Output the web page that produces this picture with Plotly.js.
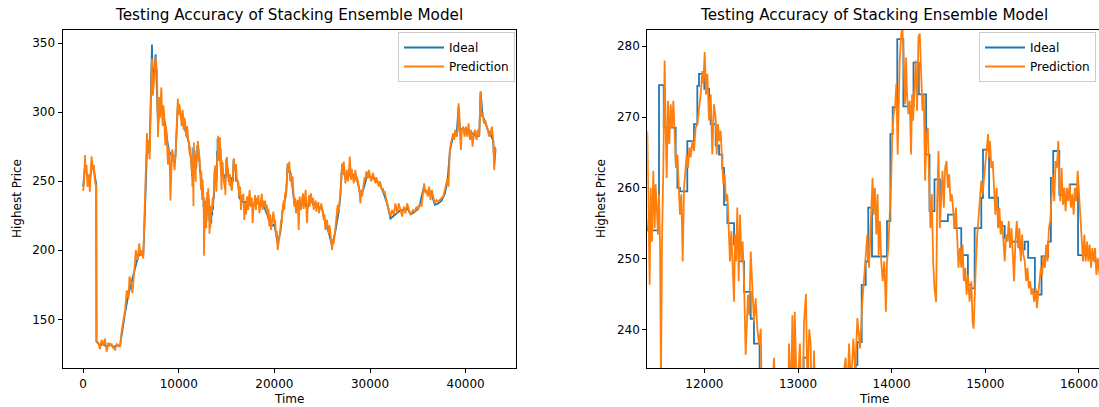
<!DOCTYPE html>
<html><head><meta charset="utf-8">
<script src="https://cdn.plot.ly/plotly-3.0.1.min.js"></script>
<style>html,body{margin:0;padding:0;overflow:hidden;background:#fff}#chart{width:1101px;height:407px}</style>
</head><body><div id="chart"></div>
<script>
// ---------- data ----------
const predTime = [
0,100,200,246,351,456,597,702,807,878,
1018,1123,1229,1334,1369,1404,1580,1755,1931,2106,
2282,2457,2633,2808,2984,3159,3335,3510,3686,3861,
4037,4212,4388,4563,4739,4844,5019,5160,5370,5511,
5721,5862,6002,6143,6283,6423,6564,6669,6774,6880,
6950,7090,7196,7301,7441,7582,7722,7827,7968,8040,
8108,8180,8249,8320,8389,8460,8529,8600,8670,8740,
8810,8880,8951,9040,9126,9210,9302,9390,9477,9560,
9653,9740,9828,9905,9960,10048,10130,10222,10310,10396,
10450,10501,10570,10641,10710,10780,10850,10920,10990,11060,
11130,11199,11270,11339,
11391,11406,11416,11427,11441,11455,11470,11480,11491,11505,
11516,11527,11537,11548,11562,11576,11587,11598,11612,11626,
11641,11655,11669,11683,11697,11712,11726,11740,11754,11769,
11783,11797,11811,11826,11840,11854,11872,11890,11907,11925,
11943,11961,11979,11989,12004,12018,12032,12050,12068,12085,
12103,12121,12132,12146,12160,12174,12189,12203,12217,12231,
12246,12260,12274,12288,12303,12317,12327,12338,12352,12367,
12381,12395,12409,12424,12441,12452,12466,12480,12495,12513,
12530,12548,12566,12584,12602,12620,12640,12660,12690,12720,
12744,12770,12800,12840,12880,12904,12925,12940,12955,12965,
12990,13020,13045,13064,13085,13100,13120,13135,13150,13171,
13190,13210,13240,13270,13300,13330,13360,13390,13420,13450,
13480,13509,13525,13545,13565,13591,13610,13634,13662,13687,
13705,13723,13740,13758,13776,13796,13807,13821,13836,13850,
13861,13875,13889,13904,13921,13939,13950,13964,13979,13993,
14007,14021,14036,14050,14064,14075,14086,14100,14114,14129,
14143,14154,14164,14179,14193,14207,14218,14229,14243,14257,
14271,14286,14300,14314,14329,14343,14357,14371,14386,14400,
14414,14429,14443,14457,14475,14486,14500,14514,14529,14543,
14557,14571,14586,14600,14614,14629,14643,14657,14671,14686,
14700,14714,14729,14743,14757,14771,14786,14800,14814,14832,
14850,14864,14875,14886,14900,14914,14929,14943,14957,14971,
14986,15000,15014,15029,15039,15050,15064,15079,15093,15107,
15121,15136,15150,15164,15179,15193,15207,15221,15236,15250,
15264,15279,15293,15307,15321,15336,15350,15364,15379,15393,
15407,15421,15436,15450,15464,15479,15493,15507,15521,15539,
15550,15564,15579,15593,15607,15621,15636,15650,15664,15679,
15693,15707,15721,15736,15750,15764,15779,15789,15800,15814,
15829,15843,15857,15871,15886,15900,15914,15929,15943,15957,
15971,15986,16000,16014,16029,16043,16057,16071,16086,16100,
16114,16129,16143,16157,16171,16186,16200,16218,
16330,16420,16504,16590,16679,16760,16853,16958,17050,17132,
17200,17272,17340,17411,17480,17551,17640,17726,17810,17900,
17990,18075,18160,18249,18340,18424,18510,18598,18690,18773,
18860,18947,19030,19122,19210,19296,19380,19471,19560,19645,
19730,19820,19900,19994,20080,20169,20260,20343,20448,20530,
20622,20700,20762,20830,20901,20970,21041,21130,21216,21300,
21390,21480,21565,21650,21739,21830,21914,22000,22088,22170,
22263,22350,22437,22490,22542,22600,22646,22720,22786,22890,
22995,23060,23135,23200,23274,23340,23414,23480,23554,23620,
23693,23760,23833,23900,23972,24040,24112,24180,24252,24320,
24391,24460,24531,24600,24670,24740,24810,24900,24985,25070,
25159,25250,25334,25420,25508,25600,25683,25770,25858,25940,
26032,26120,26206,26290,26381,26470,26555,26640,26730,26820,
26904,26990,27079,27160,27253,27340,27428,27510,27602,27690,
27777,27881,27950,28021,28090,28160,28230,28300,28390,28475,
28560,28649,28740,28824,28910,28998,29090,29173,29260,29347,
29430,29522,29610,29696,29780,29871,29960,30045,30130,30220,
30300,30394,30480,30569,30650,30743,30830,30918,31000,31092,
31180,31267,31350,31441,31530,31616,31700,31790,
31965,32139,32314,32488,
32663,32837,33012,33186,33361,33535,33710,33884,34059,34233,
34408,34513,34688,34862,35037,35211,35386,35560,35665,35804,
35909,36049,36188,36328,36467,36607,36782,36956,37131,37305,
37480,37654,37829,38003,38108,38212,38352,38457,38561,38701,
38806,38910,39050,39190,39259,39329,39399,39504,39608,39748,
39887,40027,40167,40306,40446,40586,40725,40865,41004,41144,
41284,41423,41563,41668,41772,41912,42051,42191,42331,42470,
42610,42749,42889,42994,43064,43133
];
const predPrice = [
243,250,269,256,262,246,255,242.5,258,268,
258,262,250,248,246,134,133,128.5,135,131,
136,126.5,133,131,132,129,128,132,131,130,
142,149.5,157,171,165,181,176,169,186,200,
193,205,196,200,194,222,251,285,270,280,
266,321,339,312,330,340,330,282,311,296,
309,318,299,290,305,300,285,276,290,284,
270,262,275,270,236,262,273,270,262,258,
267,280,290,310,298,306,302,296.8,290,301.7,
298,287.2,296,294.4,285,282.4,290,287.2,279,277.5,
270,275.1,268,258.2,
268,258.1,246.3,260,252.4,262.4,254.3,260.5,256.2,253.4,
259.1,252,232,252.4,262.8,278,268.5,261.4,272.3,266.2,
271.8,268.5,272.3,267.1,262.8,264.7,260,256.2,259.1,249.6,
260,262.8,264.7,262.8,265.7,264.3,266.6,265.2,268.5,269,
270.9,273.2,276.5,274.7,279.2,273.2,276.1,269.5,273.2,264.7,
271.8,269.9,264.7,269,266.6,268.1,263.8,260.5,261.9,258.1,
259.1,255.3,249.6,253.9,249.6,243.9,253.4,249.6,257.2,246.8,
256.2,249.6,252.4,246.8,236.4,240.1,244.9,242,251,245.8,
241.1,244.4,240.1,237.8,240.1,226,196,222,218,230,
236,225,220,228,216,238,230,242,226,242.5,
230,238,225,241,245,232,240,238,226,237,
222,212,218,226,216,224,232,226,230,228,
233,236,230,238,232,238.7,234,241.6,237.3,243.9,
246.8,249.6,253.4,248.7,256.2,261.4,256.2,260,253.4,259.1,
250.5,255.3,249.6,246.8,249.6,242.5,249.6,251.5,256.2,260,
267.6,270.4,271.4,274.7,264.7,272.3,278,281.3,283,278,
271.8,278.4,273.2,270.4,272.3,264.7,273.2,269.5,273.2,278,
270.9,281.3,281.8,277,270.9,273.2,261,267.1,268.5,261,
254.3,259.1,249.6,245.8,243.9,258.1,265.2,254.3,260,262.4,
257.2,262.8,263.8,260,261.9,258.1,259.1,256.2,254.3,257.2,
252.4,248.7,251.5,248.7,252,246.8,248.7,244.9,247.7,243.9,
246.8,241.1,240.1,245.8,249.6,253.4,256.2,258.1,261,259.1,
261.4,263.8,265.7,267.6,264.3,266.6,262.8,263.8,260,256.2,
260,254.3,257.2,253.4,255.3,251.5,249.6,253.4,252.4,255.3,
251.5,254.3,250.5,246.8,252.4,255.3,251.5,254.3,249.6,253.4,
250.5,249.6,246.8,248.7,245.8,246.8,244.9,245.8,243.9,245.8,
243,244.9,246.8,248.7,247.7,250.5,248.7,252,249.6,254.3,
255.3,259.1,261.9,258.1,263.8,262.8,266.6,261,258.1,262.8,
257.6,260,256.7,260,258.1,260.5,257.2,259.1,256.2,260,
258.1,262.4,259.1,255.3,252.4,249.6,253.4,249.6,252.4,249.6,
252,248.7,251.5,249.6,251.5,247.7,250.1,247.9,
239,246,229.2,240,236.5,241,222,234,226,239,
231,229.2,238,243.7,236,231.6,238,219.6,230,236.5,
240,229.2,238,234,240,226.8,232,236.5,241,229.2,
236,231.6,236,229.2,233,224.4,230,217.2,226,214.7,
220,222,228,219.6,222,209.9,214,200.2,205,210,
214.7,222,219.6,228,234,236,229.2,242,239,252,
263,256,264.2,250,255.8,246,253.4,240,231.6,238,
226.8,233,236.5,226,214.7,230,239,233,229.2,237,
241.3,230,234,239,243.7,232,219.6,230,236.5,240,
231.6,236,241.3,236,234,238,229.2,233,234,236,
228,234,231.6,235,226.8,232,229.2,234,231,226,
222,226,214.7,220,222,216,212.3,218,209.9,204,
200.2,208,205,210,214.7,222,229.2,233,226.8,234,
239,250,263,255,264.2,256,248.5,254,258.2,250,
253.4,268,257,251,259,255.8,252,248.5,254,258.2,
250,253.4,250,246.1,242,234,244,239,244,246.1,
253,251,257,255.8,252,258.2,255,253.4,250,252.2,
256,253.4,251,248.5,253,251,248,246.1,250,248.5,
245,243.7,245,241.3,243,239,236,234,
229.2,224.4,229.2,225.6,
234,226.8,234,229.2,224.4,231.6,226.8,234,229.2,225.6,
228,229.2,228,231.6,229.2,234,231.6,246.1,248.5,241.3,
243.7,239,246.1,236.5,243.7,239,234,236.5,235.3,236.5,
237.7,239,243.7,248.5,252.2,246.1,272.7,277.5,280,284.8,
280,287.2,282.4,287.2,306.5,301.7,287.2,272.7,287.2,289.6,
282.4,289.6,282.4,292,280,287.2,275.1,284.8,287.2,280,
287.2,282.4,315,296.8,299.3,292,294.4,289.6,287.2,282.4,
284.8,289.6,280,258.2,275.1,272.7
];
const idealTime = [
0,200,456,702,878,1123,1369,1390,1755,2106,
2457,2808,3159,3510,3861,4037,4388,4739,5019,5370,
5721,6002,6283,6423,6669,6950,7090,7196,7301,7582,
7827,8108,8389,8670,8951,9302,9653,9905,10222,10501,
10780,11060,11339,
11391,11516,11516,11566,11566,11694,11694,11712,11712,11740,
11740,11818,11818,11890,11890,11925,11925,11943,11943,12000,
12000,12050,12050,12068,12068,12121,12121,12157,12157,12192,
12192,12210,12210,12246,12246,12317,12317,12370,12370,12424,
12424,12495,12495,12530,12530,12590,12590,12700,12700,12800,
12800,12900,12900,13000,13000,13060,13060,13110,13110,13200,
13200,13300,13300,13400,13400,13500,13500,13580,13580,13616,
13616,13634,13634,13680,13680,13723,13723,13750,13750,13790,
13790,13950,13950,13986,13986,14011,14011,14060,14060,14125,
14125,14233,14233,14290,14290,14368,14368,14404,14404,14457,
14457,14515,14515,14600,14600,14671,14671,14743,14743,14814,
14814,14850,14850,14886,14886,14957,14957,14975,14975,15040,
15040,15136,15136,15207,15207,15279,15279,15368,15368,15421,
15421,15457,15457,15529,15529,15564,15564,15600,15600,15671,
15671,15700,15700,15725,15725,15790,15790,15903,15903,15990,
15990,16100,16100,16171,16171,16218,
16330,16679,17132,17551,17900,18249,18598,18947,19296,19645,
19994,20343,20622,20901,21216,21390,21739,22088,22437,22786,
23135,23414,23833,24112,24531,24985,25334,25683,26032,26381,
26730,26904,27079,27428,27777,28160,28475,28824,28998,29347,
29696,30045,30394,30743,31092,31441,31790,32139,32488,32837,
33186,33535,33884,34233,34513,34862,35211,35560,35909,36188,
36467,36782,37131,37480,37829,38108,38352,38701,39050,39259,
39399,39748,40027,40306,40586,40865,41144,41423,41563,41772,
42051,42331,42610,42889,42994,43133
];
const idealPrice = [
246,262,252,250,262,258,248,134,131,132,
130,132,130,131,131,140,155,168,176,184,
195,198,196,220,272,272,318,349,318,342,
292,307,300,287,272,268,268,305,298,292,
285,278,262,
254,254,274.5,274.5,268.5,268.5,263.8,263.8,260,260,
259.5,259.5,266.6,266.6,269,269,274.4,274.4,276.1,276.1,
274,274,270,270,269,269,266,266,264.7,264.7,
262.8,262.8,257.6,257.6,255,255,252,252,249.6,249.6,
245.3,245.3,241.5,241.5,238,238,232,232,226,226,
222,222,228,228,232,232,236,236,232,232,
222,222,220,220,226,226,230,230,233,233,
235,235,238.2,238.2,246.3,246.3,249.6,249.6,257.2,257.2,
250.3,250.3,255.3,255.3,267.6,267.6,271.4,271.4,281,281,
271.5,271.5,277.7,277.7,273.2,273.2,264.7,264.7,256.7,256.7,
261.2,261.2,255.3,255.3,256.2,256.2,254.3,254.3,250.5,250.5,
246.3,246.3,245.8,245.8,254.3,254.3,258.6,258.6,265.4,265.4,
258.6,258.6,254.6,254.6,252.9,252.9,252.4,252.4,251.3,251.3,
252.4,252.4,250.1,250.1,245.3,245.3,244.9,244.9,250.3,250.3,
252.4,252.4,261.4,261.4,265.2,265.2,259,259,260.5,260.5,
250.5,250.5,250.1,250.1,249.6,249.6,
238,235,235,232,234,234,233,231,225,217,
219,205,213,231,240,262,255,234,232,232,
236,230,237,232,231,230,219,213,203,214,
228,240,262,252,255,254,255,246,239,245,
254,253,252,250,247,241,234,223,225,227,
229,229,231,226,227,229,233,244,242,243,
240,233,234,236,241,250,272,283,283,304,
288,288,287,288,285,284,282,283,315,298,
293,287,284,279,262,273
];
const leftXTicks = [0, 10000, 20000, 30000, 40000];
const leftYTicks = [150, 200, 250, 300, 350];
const rightXTicks = [12000, 13000, 14000, 15000, 16000];
const rightYTicks = [240, 250, 260, 270, 280];
const chartTitle = 'Testing Accuracy of Stacking Ensemble Model';
const xTitle = 'Time';
const yTitle = 'Highest Price';
const seriesNames = ['Ideal', 'Prediction'];

// ---------- drawing ----------
const FONT = 'DejaVu Sans';
const BLUE = '#1f77b4', ORANGE = '#ff7f0e';
const W = 1101, H = 407;

function trace(x, y, name, color, xa, ya, leg) {
  return {x: x, y: y, name: name, type: 'scatter', mode: 'lines',
    line: {color: color, width: 1.8}, xaxis: xa, yaxis: ya, legend: leg, hoverinfo: 'skip'};
}
const data = [
  trace(idealTime, idealPrice, seriesNames[0], BLUE, 'x', 'y', 'legend'),
  trace(predTime, predPrice, seriesNames[1], ORANGE, 'x', 'y', 'legend'),
  trace(idealTime, idealPrice, seriesNames[0], BLUE, 'x2', 'y2', 'legend2'),
  trace(predTime, predPrice, seriesNames[1], ORANGE, 'x2', 'y2', 'legend2')
];

function axis(domain, range, ticks, anchor) {
  return {domain: domain, range: range, tickvals: ticks, ticktext: ticks.map(String),
    anchor: anchor, showline: true, mirror: true, linecolor: '#000', linewidth: 1,
    ticks: 'outside', ticklen: 4, tickwidth: 1, tickcolor: '#000',
    showgrid: false, zeroline: false, fixedrange: true,
    tickfont: {family: FONT, size: 12, color: '#000'}};
}
const yDom = [(H - 368.3) / H, (H - 30) / H];
const legendStyle = {bgcolor: 'rgba(255,255,255,0.8)', bordercolor: '#cccccc', borderwidth: 1,
  itemwidth: 40,
  font: {family: FONT, size: 12, color: '#000'}, xanchor: 'right', yanchor: 'top', y: (H - 32) / H};

function ann(text, x, y, size, angle) {
  return {text: text, x: x, y: y, xref: 'paper', yref: 'paper', showarrow: false,
    xanchor: 'center', yanchor: 'middle', textangle: angle || 0,
    font: {family: FONT, size: size, color: '#000'}};
}

const layout = {
  width: W, height: H, margin: {l: 0, r: 0, t: 0, b: 0},
  paper_bgcolor: '#fff', plot_bgcolor: '#fff', showlegend: true,
  xaxis: axis([62.5 / W, 516.3 / W], [-2160, 45300], leftXTicks, 'y'),
  yaxis: axis(yDom, [114.5, 359.6], leftYTicks, 'x'),
  xaxis2: axis([647.3 / W, 1], [11391, 16235], rightXTicks, 'y2'),
  yaxis2: axis(yDom, [234.5, 282.3], rightYTicks, 'x2'),
  legend: Object.assign({x: 515 / W}, legendStyle),
  legend2: Object.assign({x: 1096 / W}, legendStyle),
  annotations: [
    ann(chartTitle, 289.4 / W, (H - 15) / H, 15.2),
    ann(chartTitle, 874.2 / W, (H - 15) / H, 15.2),
    ann(xTitle, 289.4 / W, (H - 399) / H, 12),
    ann(xTitle, 874.2 / W, (H - 399) / H, 12),
    ann(yTitle, 17 / W, (H - 199) / H, 12, -90),
    ann(yTitle, 601 / W, (H - 199) / H, 12, -90)
  ]
};
Plotly.newPlot('chart', data, layout, {staticPlot: true, displayModeBar: false});
</script>
</body></html>
